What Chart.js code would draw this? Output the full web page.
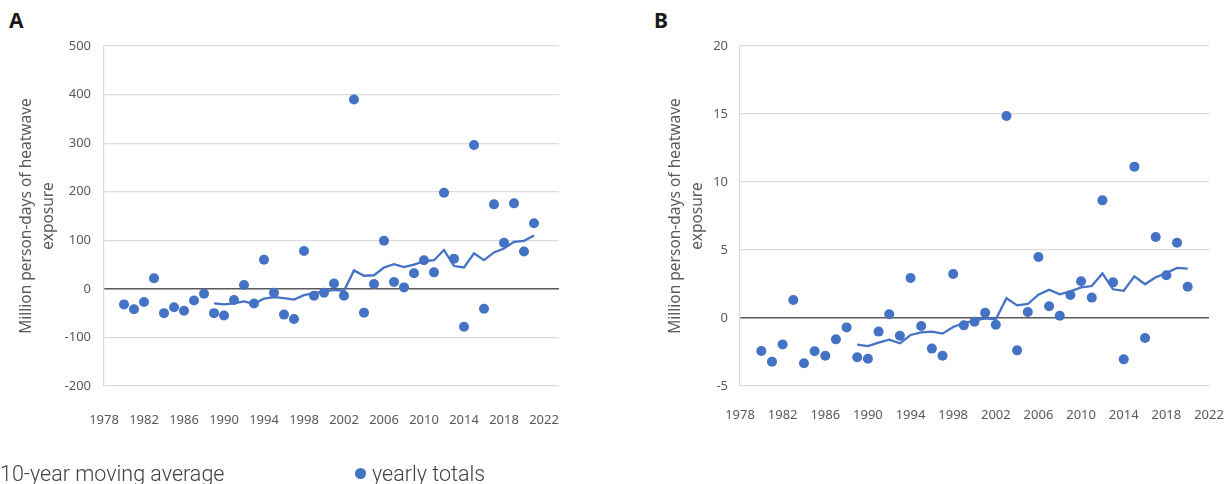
<!DOCTYPE html>
<html>
<head>
<meta charset="utf-8">
<script src="https://cdn.jsdelivr.net/npm/chart.js@4.4.1/dist/chart.umd.min.js"></script>
<style>
  body { margin: 0; background: #fff; width: 1229px; height: 484px; overflow: hidden; position: relative; }
  .panel { position: absolute; top: 0; height: 484px; }
  #boxA { left: 0; width: 600px; }
  #boxB { left: 620px; width: 609px; }
  .tag { position: absolute; top: 6px; font: bold 21px "Noto Sans", sans-serif; color: #1a1a1a; }
  .legend { position: absolute; top: 463px; font: 300 21.5px/21px Roboto, sans-serif; color: #404040; white-space: nowrap; }
  .dot { position: absolute; left: -17px; top: 5px; width: 11px; height: 11px; border-radius: 50%; background: #4472C4; }
</style>
</head>
<body>
<div class="tag" style="left:9px">A</div>
<div class="tag" style="left:654px">B</div>
<div class="panel" id="boxA"><canvas id="chartA" width="600" height="484"></canvas></div>
<div class="panel" id="boxB"><canvas id="chartB" width="609" height="484"></canvas></div>
<div class="legend" style="left:0px">10-year moving average</div>
<div class="legend" style="left:372px"><span class="dot"></span>yearly totals</div>
<script>
// years covered by each panel
const yearsA = [1980, 1981, 1982, 1983, 1984, 1985, 1986, 1987, 1988, 1989, 1990, 1991, 1992, 1993,
    1994, 1995, 1996, 1997, 1998, 1999, 2000, 2001, 2002, 2003, 2004, 2005, 2006, 2007, 2008, 2009,
    2010, 2011, 2012, 2013, 2014, 2015, 2016, 2017, 2018, 2019, 2020, 2021];
const yearsB = [1980, 1981, 1982, 1983, 1984, 1985, 1986, 1987, 1988, 1989, 1990, 1991, 1992, 1993,
    1994, 1995, 1996, 1997, 1998, 1999, 2000, 2001, 2002, 2003, 2004, 2005, 2006, 2007, 2008, 2009,
    2010, 2011, 2012, 2013, 2014, 2015, 2016, 2017, 2018, 2019, 2020];

// panel A: yearly totals and 10-year moving average (average starts 1989)
const totalsA = [-32, -42, -27, 22, -50, -38, -45, -24, -10, -50, -55, -23, 8, -30, 60, -8, -53, -62,
    78, -14, -8, 11, -14, 390, -49, 10, 99, 14, 3, 32, 59, 34, 198, 62, -78, 296, -41, 174, 95, 176, 77, 135];
const avgYearsA = [1989, 1990, 1991, 1992, 1993, 1994, 1995, 1996, 1997, 1998, 1999, 2000, 2001, 2002,
    2003, 2004, 2005, 2006, 2007, 2008, 2009, 2010, 2011, 2012, 2013, 2014, 2015, 2016, 2017, 2018,
    2019, 2020, 2021];
const avgA = [-30, -32, -30, -26, -31, -20, -17, -19, -22, -13, -9, -5, -2, -4, 38, 27, 28, 44, 51, 45,
    50, 57, 59, 80, 47, 44, 73, 59, 75, 83, 97, 99, 110];

// panel B
const totalsB = [-2.43, -3.21, -1.94, 1.32, -3.33, -2.45, -2.77, -1.57, -0.69, -2.89, -2.99, -1.0, 0.27,
    -1.3, 2.94, -0.59, -2.25, -2.77, 3.24, -0.54, -0.27, 0.39, -0.49, 14.85, -2.38, 0.44, 4.49, 0.86,
    0.17, 1.69, 2.70, 1.50, 8.65, 2.62, -3.04, 11.13, -1.47, 5.96, 3.14, 5.54, 2.30];
const avgYearsB = [1989, 1990, 1991, 1992, 1993, 1994, 1995, 1996, 1997, 1998, 1999, 2000, 2001, 2002,
    2003, 2004, 2005, 2006, 2007, 2008, 2009, 2010, 2011, 2012, 2013, 2014, 2015, 2016, 2017, 2018,
    2019, 2020];
const avgB = [-1.96, -2.06, -1.81, -1.6, -1.86, -1.25, -1.05, -1.0, -1.15, -0.66, -0.37, -0.2, -0.02,
    -0.1, 1.45, 0.93, 1.03, 1.72, 2.08, 1.74, 1.96, 2.25, 2.35, 3.28, 2.11, 2.0, 3.06, 2.48, 2.99, 3.31,
    3.68, 3.63];

const xTicks = [1978, 1982, 1986, 1990, 1994, 1998, 2002, 2006, 2010, 2014, 2018, 2022];
const yTitle = ['Million person-days of heatwave', 'exposure'];

const blue = '#4472C4';
const grey = '#595959';

function pts(xs, ys) {
    return xs.map((x, i) => ({ x: x, y: ys[i] }));
}

function makeChart(id, o) {
    return new Chart(document.getElementById(id), {
        type: 'scatter',
        data: {
            datasets: [
                {
                    label: 'yearly totals',
                    data: pts(o.years, o.totals),
                    backgroundColor: blue,
                    borderWidth: 0,
                    pointRadius: 5,
                    order: 1
                },
                {
                    label: '10-year moving average',
                    data: pts(o.avgYears, o.avg),
                    showLine: true,
                    borderColor: blue,
                    borderWidth: 2.3,
                    pointRadius: 0,
                    order: 2
                }
            ]
        },
        options: {
            responsive: false,
            animation: false,
            layout: { padding: { left: 0, top: 46, right: o.padRight, bottom: 0 } },
            plugins: { legend: { display: false }, tooltip: { enabled: false } },
            scales: {
                x: {
                    type: 'linear',
                    min: 1978,
                    max: o.xMax,
                    afterBuildTicks: s => { s.ticks = xTicks.map(v => ({ value: v })); },
                    afterFit: s => { s.height = 98; s.paddingLeft = 0; s.paddingRight = 0; },
                    grid: { display: false },
                    border: { display: false },
                    ticks: { color: grey, padding: o.xPad, maxRotation: 0, autoSkip: false,
                        callback: v => String(v),
                        font: { family: 'Noto Sans', size: 13 } }
                },
                y: {
                    min: o.yMin,
                    max: o.yMax,
                    afterFit: s => { s.width = o.yWidth; s.paddingTop = 0; s.paddingBottom = 0; },
                    grid: {
                        drawTicks: false,
                        color: c => c.tick.value === 0 ? '#5a5a5a' : '#dcdcdc',
                        lineWidth: c => c.tick.value === 0 ? 1.6 : 1.2
                    },
                    border: { color: '#d9d9d9', width: 1.2 },
                    ticks: { stepSize: o.yStep, color: grey, padding: o.yPad,
                        font: { family: 'Noto Sans', size: 13 } },
                    title: {
                        display: true,
                        text: yTitle,
                        color: grey,
                        font: { family: 'Noto Sans', size: 15.5, lineHeight: 1.39 },
                        padding: { top: o.titlePad, bottom: 0 }
                    }
                }
            }
        }
    });
}

makeChart('chartA', {
    years: yearsA, totals: totalsA, avgYears: avgYearsA, avg: avgA,
    xMax: 2023.5, yMin: -200, yMax: 500, yStep: 100,
    padRight: 41, yWidth: 104, yPad: 13, xPad: 18, titlePad: 16
});

makeChart('chartB', {
    years: yearsB, totals: totalsB, avgYears: avgYearsB, avg: avgB,
    xMax: 2022, yMin: -5, yMax: 20, yStep: 5,
    padRight: 20, yWidth: 120, yPad: 12, xPad: 13, titlePad: 45
});
</script>
</body>
</html>
